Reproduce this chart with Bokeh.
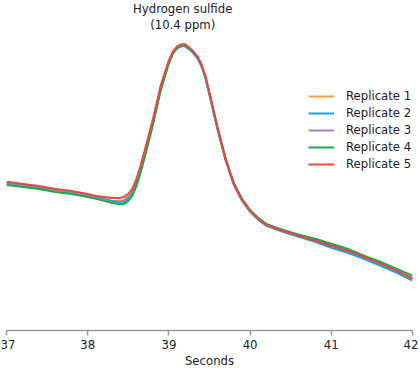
from bokeh.plotting import figure
from bokeh.models import Range1d, FixedTicker, Legend, LegendItem, Label
from bokeh.embed import file_html
from bokeh.resources import INLINE

# ---- data ----
TIME = [37.0, 37.2, 37.4, 37.6, 37.8, 38.0, 38.1, 38.2, 38.3, 38.4, 38.45, 38.5, 38.55,
        38.6, 38.65, 38.7, 38.8, 38.9, 39.0, 39.05, 39.1, 39.15, 39.2, 39.25, 39.3, 39.35,
        39.4, 39.45, 39.5, 39.6, 39.7, 39.8, 39.9, 40.0, 40.1, 40.2, 40.3, 40.4, 40.6,
        40.8, 41.0, 41.2, 41.4, 41.6, 41.8, 42.0]

REP1 = [147, 145, 143, 140, 138, 135, 133, 131, 130, 130, 131, 134, 139, 149, 162, 177, 209,
        244, 270, 279, 284, 286, 286, 283, 279, 274, 266, 254, 237, 202, 171, 147, 131, 120,
        112, 106, 103, 100, 95, 91, 85, 80, 74, 67, 60, 53]
REP2 = [149, 147, 144, 142, 139, 136, 134, 132, 130, 129, 130, 133, 138, 148, 161, 176, 208,
        243, 270, 279, 284, 286, 285, 282, 278, 273, 265, 253, 236, 201, 170, 146, 130, 119,
        111, 105, 102, 99, 94, 89, 83, 78, 72, 65, 58, 50]
REP3 = [148, 145, 143, 141, 138, 135, 133, 131, 128, 127, 128, 131, 136, 146, 159, 175, 207,
        243, 269, 278, 283, 285, 285, 283, 279, 274, 266, 254, 237, 203, 172, 147, 131, 120,
        112, 106, 103, 100, 96, 91, 86, 80, 75, 68, 60, 52]
REP4 = [146, 144, 142, 139, 137, 134, 132, 130, 128, 127, 127, 130, 135, 145, 158, 173, 205,
        241, 268, 278, 283, 285, 286, 283, 280, 275, 267, 255, 238, 203, 172, 148, 132, 121,
        113, 107, 104, 101, 96, 92, 87, 82, 75, 69, 62, 55]
REP5 = [149, 147, 145, 142, 140, 137, 135, 134, 133, 133, 134, 137, 142, 152, 165, 180, 211,
        246, 271, 280, 285, 287, 287, 284, 280, 275, 267, 255, 238, 203, 171, 147, 131, 120,
        112, 106, 103, 100, 95, 90, 85, 80, 74, 67, 60, 52]

SERIES = [REP1, REP2, REP3, REP4, REP5]
NAMES = ["Replicate 1", "Replicate 2", "Replicate 3", "Replicate 4", "Replicate 5"]
COLORS = ["#F0A33A", "#1FA0DA", "#9B86C2", "#1DA84C", "#E8483E"]
TICKS = [37, 38, 39, 40, 41, 42]
ANNOT = ["Hydrogen sulfide", "(10.4 ppm)"]
ANNOT_X = 39.17
ANNOT_Y = [323, 307]
X_LABEL = "Seconds"

FONT = "'DejaVu Sans Condensed', Roboto, sans-serif"

p = figure(width=418, height=370, x_range=Range1d(37, 42), y_range=Range1d(0, 331),
           output_backend="svg", toolbar_location=None, y_axis_location=None,
           min_border_left=6, min_border_right=6, min_border_top=0, min_border_bottom=0)
p.grid.visible = False
p.outline_line_color = None

ax = p.xaxis[0]
ax.ticker = FixedTicker(ticks=TICKS)
ax.axis_line_color = "#9a9a9a"
ax.axis_line_width = 1.5
ax.major_tick_line_color = "#9a9a9a"
ax.major_tick_line_width = 1.5
ax.major_tick_out = 5
ax.major_tick_in = 0
ax.minor_tick_line_color = None
ax.major_label_text_font = FONT
ax.major_label_text_font_size = "13px"
ax.major_label_text_color = "#222222"
ax.major_label_text_line_height = 1.0
ax.major_label_standoff = 4
ax.axis_label = X_LABEL
ax.axis_label_text_font = FONT
ax.axis_label_text_font_size = "13px"
ax.axis_label_text_font_style = "normal"
ax.axis_label_text_color = "#222222"
ax.axis_label_text_line_height = 1.0
ax.axis_label_standoff = 1

items = []
for vals, name, col in zip(SERIES, NAMES, COLORS):
    r = p.line(TIME, vals, line_color=col, line_width=2)
    items.append(LegendItem(label=name, renderers=[r]))

legend = Legend(items=items, location=(302, 159), background_fill_alpha=0,
                border_line_color=None, padding=0, margin=0, glyph_width=26,
                glyph_height=14, label_height=14, spacing=2, label_standoff=12,
                label_text_font=FONT, label_text_font_size="13px",
                label_text_color="#222222")
p.add_layout(legend)

for txt, yy in zip(ANNOT, ANNOT_Y):
    p.add_layout(Label(x=ANNOT_X, y=yy, text=txt, text_align="center",
                       text_baseline="middle", text_font=FONT,
                       text_font_size="13px", text_color="#222222"))

open("out.html", "w").write(file_html(p, INLINE))
